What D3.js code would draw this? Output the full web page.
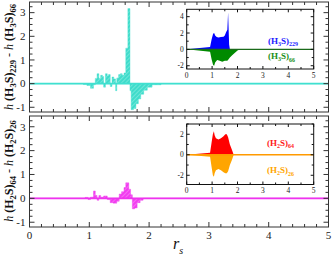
<!DOCTYPE html>
<html><head><meta charset="utf-8">
<script src="https://cdn.jsdelivr.net/npm/d3@7"></script>
<style>body{margin:0;background:#fff}svg{display:block}text{font-family:"Liberation Serif","DejaVu Serif",serif}</style>
</head><body>
<script>
// ---- data ----
const main1R = [0, 0.90, 0.96, 1.02, 1.07, 1.10, 1.13, 1.16, 1.19, 1.22, 1.24, 1.27, 1.30, 1.32, 1.35, 1.38, 1.41, 1.44, 1.46, 1.49, 1.52, 1.55, 1.58, 1.61, 1.645, 1.68, 1.70, 1.74, 1.78, 1.82, 1.86, 1.91, 1.97, 2.05, 2.2, 5];
const main1V = [0, -0.04, -0.08, -0.2, -0.05, 0.22, 0.42, 0.22, 0.35, 0.3, -0.15, 0.42, 0.32, 0.38, -0.12, 0.28, 0.2, -0.3, 0.24, 0.38, 0.42, 0.35, 0.45, 1.5, 3.17, -0.3, -1.1, -1.05, -0.85, -0.65, -0.45, -0.28, -0.15, -0.05, 0, 0];
const main2R = [0, 0.93, 0.98, 1.02, 1.07, 1.10, 1.13, 1.16, 1.19, 1.24, 1.30, 1.35, 1.40, 1.46, 1.50, 1.54, 1.58, 1.61, 1.66, 1.69, 1.72, 1.76, 1.80, 1.85, 1.90, 5];
const main2V = [0, 0.04, -0.05, 0.05, 0.31, 0.12, -0.08, 0.12, 0.05, 0.1, -0.05, -0.18, -0.2, -0.12, 0.18, 0.28, 0.45, 0.65, 0.38, 0.15, -0.44, -0.4, -0.18, -0.08, 0, 0];
const blueR = [0, 0.92, 0.98, 1.04, 1.08, 1.12, 1.18, 1.25, 1.35, 1.45, 1.50, 1.55, 1.60, 1.63, 1.67, 1.70, 5];
const blueV = [0, 0.3, 1.2, 1.9, 2.0, 1.7, 1.5, 1.45, 1.5, 1.55, 1.7, 2.1, 2.4, 4.5, 0.6, 0, 0];
const greenR = [0, 0.92, 0.98, 1.04, 1.08, 1.12, 1.2, 1.3, 1.4, 1.5, 1.6, 1.65, 1.7, 1.8, 1.9, 2.0, 2.1, 5];
const greenV = [0, -0.3, -1.2, -1.9, -2.0, -1.6, -1.3, -1.4, -1.5, -1.4, -1.4, -1.2, -1.0, -0.7, -0.4, -0.15, 0, 0];
const redR = [0, 0.92, 0.98, 1.03, 1.07, 1.1, 1.15, 1.25, 1.35, 1.45, 1.52, 1.58, 1.63, 1.7, 1.78, 1.85, 5];
const redV = [0, 0.2, 1.2, 2.0, 2.3, 1.9, 1.6, 1.5, 1.6, 1.8, 2.0, 2.0, 1.7, 1.0, 0.5, 0, 0];
const orangeR = [0, 0.92, 0.98, 1.03, 1.07, 1.1, 1.15, 1.25, 1.35, 1.45, 1.52, 1.58, 1.63, 1.7, 1.78, 1.85, 5];
const orangeV = [0, -0.2, -1.2, -2.0, -2.15, -1.8, -1.5, -1.4, -1.5, -1.7, -1.8, -1.8, -1.6, -1.0, -0.5, 0, 0];
const mainXTicks = [0, 1, 2, 3, 4, 5];
const mainYTicks = [-1, 0, 1, 2, 3];
const insetXTicks = [0, 1, 2, 3, 4, 5];
const inset1YTicks = [-2, 0, 2, 4];
const inset2YTicks = [-2, 0, 2];

const W = 332, H = 257;
const svg = d3.select("body").append("svg").attr("width", W).attr("height", H);
const defs = svg.append("defs");
function hatch(id, base, light) {
  const p = defs.append("pattern").attr("id", id).attr("patternUnits", "userSpaceOnUse")
    .attr("width", 3).attr("height", 3).attr("patternTransform", "rotate(45)");
  p.append("rect").attr("width", 3).attr("height", 3).attr("fill", base);
  p.append("line").attr("x1", 0).attr("y1", 0).attr("x2", 0).attr("y2", 3).attr("stroke", light).attr("stroke-width", 0.9);
}
hatch("hc", "#3fdccb", "#a8f3ea");
hatch("hm", "#f23cf0", "#f8a6f6");

const zip = (R, V) => R.map((r, i) => ({r, v: V[i]}));

function panel(cfg) {
  const x = d3.scaleLinear().domain([0, 5]).range([cfg.x0, cfg.x1]);
  const y = d3.scaleLinear().domain(cfg.yd).range([cfg.y1, cfg.y0]);
  return {x, y};
}

function frameTicks(g, sc, cfg) {
  const {x, y} = sc;
  const col = cfg.col;
  const xt = d3.range(0, 5.0001, cfg.xMinor);
  xt.forEach(t => {
    const major = Math.abs(t - Math.round(t)) < 1e-6;
    const L = major ? cfg.tMaj : cfg.tMin;
    g.append("line").attr("x1", x(t)).attr("x2", x(t)).attr("y1", cfg.y1).attr("y2", cfg.y1 - L).attr("stroke", col);
    g.append("line").attr("x1", x(t)).attr("x2", x(t)).attr("y1", cfg.y0).attr("y2", cfg.y0 + L).attr("stroke", col);
  });
  const yt = d3.range(Math.ceil(cfg.yd[0] / cfg.yMinor) * cfg.yMinor, cfg.yd[1] + 1e-6, cfg.yMinor);
  yt.forEach(t => {
    const major = Math.abs(t / cfg.yMajor - Math.round(t / cfg.yMajor)) < 1e-6;
    const L = major ? cfg.tMaj : cfg.tMin;
    g.append("line").attr("y1", y(t)).attr("y2", y(t)).attr("x1", cfg.x0).attr("x2", cfg.x0 + L).attr("stroke", col);
    g.append("line").attr("y1", y(t)).attr("y2", y(t)).attr("x1", cfg.x1).attr("x2", cfg.x1 - L).attr("stroke", col);
  });
  g.append("rect").attr("x", cfg.x0).attr("y", cfg.y0).attr("width", cfg.x1 - cfg.x0).attr("height", cfg.y1 - cfg.y0)
    .attr("fill", "none").attr("stroke", col).attr("stroke-width", cfg.fw || 1);
}

function areaOf(sc, data, fill, curve) {
  return d3.area().x(d => sc.x(d.r)).y0(sc.y(0)).y1(d => sc.y(d.v)).curve(curve)(data);
}

// ---- main panels ----
const cfgTop = {x0: 29.5, x1: 328.5, y0: 2, y1: 112, yd: [-1.2, 3.45], col: "#333", tMaj: 5, tMin: 3, xMinor: 0.2, yMinor: 0.25, yMajor: 1};
const cfgBot = {x0: 29.5, x1: 328.5, y0: 116, y1: 227, yd: [-1.2, 3.45], col: "#333", tMaj: 5, tMin: 3, xMinor: 0.2, yMinor: 0.25, yMajor: 1};

function mainPanel(cfg, data, pat, lineCol, showX) {
  const sc = panel(cfg);
  const g = svg.append("g");
  g.append("path").attr("d", areaOf(sc, data, null, d3.curveStepAfter)).attr("fill", `url(#${pat})`).attr("stroke", lineCol).attr("stroke-width", 0.4);
  g.append("line").attr("x1", sc.x(0)).attr("x2", sc.x(5)).attr("y1", sc.y(0)).attr("y2", sc.y(0)).attr("stroke", lineCol).attr("stroke-width", 1.6);
  frameTicks(g, sc, cfg);
  g.selectAll(".yl").data(mainYTicks).enter().append("text").attr("x", cfg.x0 - 4).attr("y", d => sc.y(d) + 3.8)
    .attr("text-anchor", "end").attr("font-size", 11).attr("fill", "#222").text(d => d < 0 ? "-" + Math.abs(d) : d);
  if (showX) {
    g.selectAll(".xl").data(mainXTicks).enter().append("text").attr("x", d => sc.x(d)).attr("y", cfg.y1 + 12)
      .attr("text-anchor", "middle").attr("font-size", 11).attr("fill", "#222").text(d => d);
  }
  return sc;
}
mainPanel(cfgTop, zip(main1R, main1V), "hc", "#40e0d0", false);
mainPanel(cfgBot, zip(main2R, main2V), "hm", "#ee33ee", true);

// ---- insets ----
function inset(cfg, posData, posCol, negData, negCol, zeroCol, yticks, labels) {
  const sc = panel(cfg);
  const g = svg.append("g");
  g.append("rect").attr("x", cfg.x0).attr("y", cfg.y0).attr("width", cfg.x1 - cfg.x0).attr("height", cfg.y1 - cfg.y0).attr("fill", "#fff");
  g.append("path").attr("d", areaOf(sc, posData, null, d3.curveLinear)).attr("fill", posCol);
  g.append("path").attr("d", areaOf(sc, negData, null, d3.curveLinear)).attr("fill", negCol);
  g.append("line").attr("x1", sc.x(0)).attr("x2", sc.x(5)).attr("y1", sc.y(0)).attr("y2", sc.y(0)).attr("stroke", zeroCol).attr("stroke-width", 1.4);
  frameTicks(g, sc, cfg);
  g.selectAll(".yl").data(yticks).enter().append("text").attr("x", cfg.x0 - 3).attr("y", d => sc.y(d) + 2.6)
    .attr("text-anchor", "end").attr("font-size", 7.5).attr("fill", "#222").text(d => d < 0 ? "-" + Math.abs(d) : d);
  g.selectAll(".xl").data(insetXTicks).enter().append("text").attr("x", d => sc.x(d)).attr("y", cfg.y1 + 8.5)
    .attr("text-anchor", "middle").attr("font-size", 7.5).attr("fill", "#222").text(d => d);
  labels.forEach(l => {
    const t = g.append("text").attr("x", l.x).attr("y", l.y).attr("fill", l.col).attr("font-size", 9).attr("font-weight", "bold");
    t.append("tspan").text("(H");
    t.append("tspan").attr("font-size", 6).attr("dy", 2).text(l.n);
    t.append("tspan").attr("dy", -2).text("S)");
    t.append("tspan").attr("font-size", 6).attr("dy", 2.5).text(l.s);
  });
}
const cfgIn1 = {x0: 186.7, x1: 313.7, y0: 9.3, y1: 69, yd: [-2.4, 4.9], col: "#111", tMaj: 3, tMin: 2, xMinor: 0.5, yMinor: 1, yMajor: 2};
const cfgIn2 = {x0: 186.7, x1: 313.7, y0: 124, y1: 184.5, yd: [-2.9, 3.0], col: "#111", tMaj: 3, tMin: 2, xMinor: 0.5, yMinor: 1, yMajor: 2};
inset(cfgIn1, zip(blueR, blueV), "#0000ff", zip(greenR, greenV), "#008a00", "#1a6a1a", inset1YTicks,
  [{x: 268, y: 43.5, col: "#2020ff", n: "3", s: "229"}, {x: 268, y: 59, col: "#199019", n: "3", s: "66"}]);
inset(cfgIn2, zip(redR, redV), "#ff0000", zip(orangeR, orangeV), "#ffa500", "#ff9a00", inset2YTicks,
  [{x: 267, y: 145.5, col: "#ff1a1a", n: "2", s: "64"}, {x: 267, y: 173, col: "#ffa500", n: "2", s: "26"}]);

// ---- axis titles ----
function ytitle(cy, n, s1, s2) {
  const t = svg.append("text").attr("transform", `translate(13,${cy}) rotate(-90)`).attr("text-anchor", "middle")
    .attr("font-size", 12).attr("fill", "#111");
  t.append("tspan").attr("font-style", "italic").text("h ");
  t.append("tspan").attr("font-weight", "bold").text("(H");
  t.append("tspan").attr("font-size", 8.5).attr("dy", 3).attr("font-weight", "bold").text(n);
  t.append("tspan").attr("dy", -3).attr("font-weight", "bold").text("S)");
  t.append("tspan").attr("font-size", 8.5).attr("dy", 3).attr("font-weight", "bold").text(s1);
  t.append("tspan").attr("dy", -3).text(" - ");
  t.append("tspan").attr("font-style", "italic").text("h ");
  t.append("tspan").attr("font-weight", "bold").text("(H");
  t.append("tspan").attr("font-size", 8.5).attr("dy", 3).attr("font-weight", "bold").text(n);
  t.append("tspan").attr("dy", -3).attr("font-weight", "bold").text("S)");
  t.append("tspan").attr("font-size", 8.5).attr("dy", 3).attr("font-weight", "bold").text(s2);
}
ytitle(57, "3", "229", "66");
ytitle(171, "2", "64", "26");

const xt = svg.append("text").attr("x", 173).attr("y", 249).attr("font-size", 16).attr("font-style", "italic").attr("fill", "#111");
xt.append("tspan").text("r");
xt.append("tspan").attr("font-size", 10).attr("dy", 5).text("s");
</script>
</body></html>
